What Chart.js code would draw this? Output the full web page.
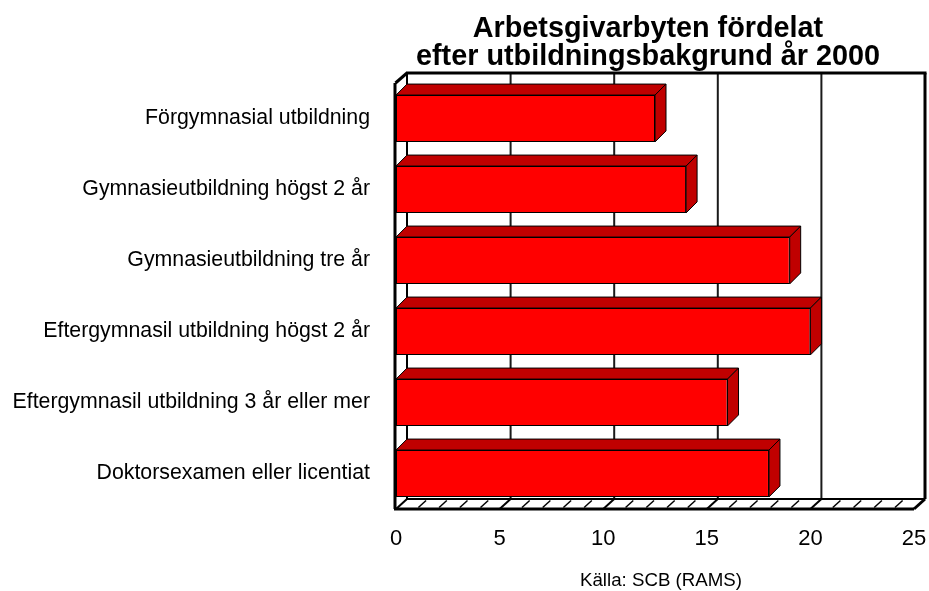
<!DOCTYPE html>
<html>
<head>
<meta charset="utf-8">
<script src="https://cdn.jsdelivr.net/npm/chart.js@4/dist/chart.umd.min.js"></script>
<style>
html,body{margin:0;padding:0;background:#fff;}
#wrap{position:relative;width:929px;height:591px;overflow:hidden;}
#chart{position:absolute;left:0;top:0;}
#title{position:absolute;left:348px;width:600px;top:13px;text-align:center;
  font:bold 28.8px "Liberation Sans",Arial,sans-serif;line-height:28px;color:#000;white-space:nowrap;}
#note{position:absolute;left:541px;width:240px;top:571px;text-align:center;
  font:18.7px "Liberation Sans",Arial,sans-serif;line-height:18px;color:#000;white-space:nowrap;}
</style>
</head>
<body>
<div id="wrap">
  <canvas id="chart" width="929" height="591"></canvas>
  <div id="title">Arbetsgivarbyten fördelat<br>efter utbildningsbakgrund år 2000</div>
  <div id="note">Källa: SCB (RAMS)</div>
</div>
<script>
// ---- data ----
const categories = [
  "Förgymnasial utbildning",
  "Gymnasieutbildning högst 2 år",
  "Gymnasieutbildning tre år",
  "Eftergymnasil utbildning högst 2 år",
  "Eftergymnasil utbildning 3 år eller mer",
  "Doktorsexamen eller licentiat"
];
const values = [12.5, 14, 19, 20, 16, 18];
const axisMin = 0;
const axisMax = 25;
const axisStep = 5;

// ---- styling ----
const FONT = '"Liberation Sans", Arial, sans-serif';
const DX = 11, DY = 10;   // depth of the plot box
const BD = 11;            // depth of each bar
const FRONT = '#FF0000', SIDE = '#C00000';

function line(ctx, x1, y1, x2, y2, w, c) {
  ctx.beginPath();
  ctx.lineWidth = w;
  ctx.strokeStyle = c || '#000';
  ctx.moveTo(x1, y1);
  ctx.lineTo(x2, y2);
  ctx.stroke();
}

const box3d = {
  id: 'box3d',
  beforeDatasetsDraw(chart) {
    const { ctx, chartArea: a, scales: { x } } = chart;
    ctx.save();
    ctx.lineCap = 'butt';
    // floor hatching (one per unit)
    for (let v = axisMin; v <= axisMax; v++) {
      const px = x.getPixelForValue(v);
      if (v % axisStep === 0) continue;
      line(ctx, px + DX * 0.15, a.bottom - DY * 0.15, px + DX * 0.85, a.bottom - DY * 0.85, 1.5, '#000');
    }
    // gridlines on back wall and floor
    for (let v = axisMin + axisStep; v < axisMax; v += axisStep) {
      const px = x.getPixelForValue(v);
      line(ctx, px + DX, a.top - DY, px + DX, a.bottom - DY, 2, '#1a1a1a');
      line(ctx, px, a.bottom, px + DX, a.bottom - DY, 2, '#000');
    }
    // back-left vertical edge
    line(ctx, a.left + DX, a.top - DY, a.left + DX, a.bottom - DY, 2);
    // floor back edge
    line(ctx, a.left + DX, a.bottom - DY, a.right + DX, a.bottom - DY, 2);
    // back wall top + right
    line(ctx, a.left + DX - 1, a.top - DY, a.right + DX + 1.5, a.top - DY, 3);
    line(ctx, a.right + DX, a.top - DY, a.right + DX, a.bottom - DY, 3);
    // top-left diagonal
    line(ctx, a.left - 0.5, a.top, a.left + DX, a.top - DY, 3);
    // floor front + right diagonal + left diagonal
    line(ctx, a.left - 2, a.bottom, a.right, a.bottom, 3);
    line(ctx, a.right, a.bottom, a.right + DX, a.bottom - DY, 3);
    line(ctx, a.left, a.bottom, a.left + DX, a.bottom - DY, 2);
    ctx.restore();
  },
  afterDatasetsDraw(chart) {
    const { ctx, chartArea: a } = chart;
    const meta = chart.getDatasetMeta(0);
    ctx.save();
    ctx.lineJoin = 'miter';
    meta.data.forEach(bar => {
      const p = bar.getProps(['x', 'y', 'base', 'height'], true);
      const top = p.y - p.height / 2, bottom = p.y + p.height / 2;
      ctx.fillStyle = SIDE;
      ctx.strokeStyle = '#000';
      ctx.lineWidth = 1;
      // top face
      ctx.beginPath();
      ctx.moveTo(p.base, top);
      ctx.lineTo(p.base + BD, top - BD);
      ctx.lineTo(p.x + BD, top - BD);
      ctx.lineTo(p.x, top);
      ctx.closePath();
      ctx.fill(); ctx.stroke();
      // right face
      ctx.beginPath();
      ctx.moveTo(p.x, top);
      ctx.lineTo(p.x + BD, top - BD);
      ctx.lineTo(p.x + BD, bottom - BD);
      ctx.lineTo(p.x, bottom);
      ctx.closePath();
      ctx.fill(); ctx.stroke();
    });
    // front-left wall edge
    line(ctx, a.left - 1, a.top, a.left - 1, a.bottom, 3);
    ctx.restore();
  }
};

new Chart(document.getElementById('chart'), {
  type: 'bar',
  data: {
    labels: categories,
    datasets: [{
      data: values,
      backgroundColor: FRONT,
      borderColor: '#000',
      borderWidth: 1,
      borderSkipped: false,
      categoryPercentage: 1,
      barPercentage: 0.66
    }]
  },
  options: {
    indexAxis: 'y',
    responsive: false,
    animation: false,
    devicePixelRatio: 1,
    layout: { padding: { top: 83, right: 15, left: 0, bottom: 0 } },
    plugins: { legend: { display: false }, title: { display: false }, tooltip: { enabled: false } },
    scales: {
      x: {
        min: axisMin, max: axisMax,
        ticks: { stepSize: axisStep, color: '#000', font: { family: FONT, size: 22 }, padding: 17, maxRotation: 0 },
        grid: { display: false, drawTicks: false },
        border: { display: false },
        afterFit(s) { s.height = 82; s.paddingLeft = 0; s.paddingRight = 0; }
      },
      y: {
        ticks: { color: '#000', font: { family: FONT, size: 21.3 }, padding: 26 },
        grid: { display: false, drawTicks: false },
        border: { display: false },
        afterFit(s) { s.width = 396; s.paddingTop = 0; s.paddingBottom = 0; }
      }
    }
  },
  plugins: [box3d]
});
</script>
</body>
</html>
